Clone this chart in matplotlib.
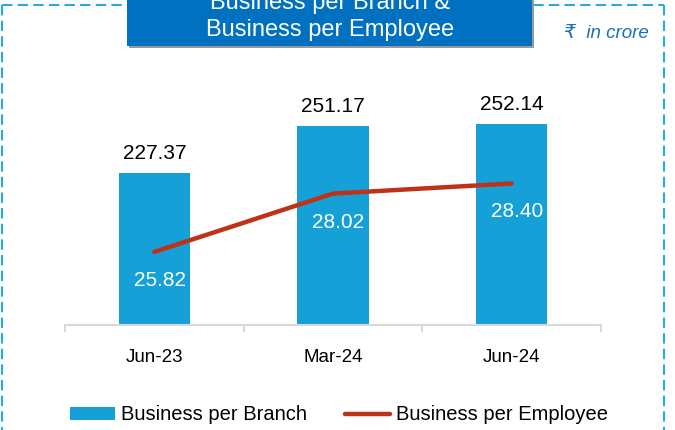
import matplotlib
matplotlib.use("Agg")
import matplotlib.pyplot as plt
from matplotlib.patches import Rectangle, Patch
from matplotlib.lines import Line2D

plt.rcParams['font.family'] = ['Liberation Sans', 'DejaVu Sans']

categories = ["Jun-23", "Mar-24", "Jun-24"]
per_branch = [227.37, 251.17, 252.14]
per_employee = [25.82, 28.02, 28.40]
title_lines = ["Business per Branch &", "Business per Employee"]
unit_note = "₹  in crore"

BAR_C = "#15A1D8"
LINE_C = "#C0311A"
BORDER_C = "#2AA8DF"
TITLE_C = "#0070C0"

W, H = 675, 430
fig = plt.figure(figsize=(W / 100, H / 100), dpi=100)

def fx(px):
    return px / W

def fy(py):
    return 1 - py / H

# axes
ax = fig.add_axes([fx(65), fy(325), fx(601) - fx(65), (325 - 60) / H])
x = list(range(len(categories)))
bars = ax.bar(x, per_branch, width=0.4, color=BAR_C, zorder=2)
ax.set_xlim(-0.5, len(categories) - 0.5)
ax.set_ylim(150.6, 150.6 + 265 / 1.978)
for s in ["top", "right", "left"]:
    ax.spines[s].set_visible(False)
ax.spines["bottom"].set_color("#D9D9D9")
ax.spines["bottom"].set_linewidth(1.5)
ax.set_yticks([])
ax.set_xticks(x)
ax.set_xticklabels(categories, fontsize=13.5)
ax.tick_params(axis="x", which="major", length=0, pad=17)
ax.set_xticks([i - 0.5 for i in range(len(categories) + 1)], minor=True)
ax.tick_params(axis="x", which="minor", length=5, color="#D9D9D9", width=1.5)

for xi, v in zip(x, per_branch):
    ax.annotate(f"{v:.2f}", (xi, v), xytext=(0, 7), textcoords="offset points",
                ha="center", va="bottom", fontsize=15, color="black")

ax2 = ax.twinx()
ax2.set_ylim(23.06, 23.06 + 265 / 26.5)
ax2.axis("off")
ax2.plot(x, per_employee, color=LINE_C, lw=3.2, solid_capstyle="round", zorder=3)
for xi, v in zip(x, per_employee):
    ax2.annotate(f"{v:.2f}", (xi, v), xytext=(4, -20.5), textcoords="offset points",
                 ha="center", va="center", fontsize=15, color="white")

# dashed border
dash = (0, (5, 2.5))
fig.add_artist(Line2D([fx(2), fx(664)], [fy(5), fy(5)], color=BORDER_C, lw=1.5,
                      linestyle=dash, transform=fig.transFigure))
fig.add_artist(Line2D([fx(2), fx(2)], [fy(5), fy(440)], color=BORDER_C, lw=1.5,
                      linestyle=dash, transform=fig.transFigure))
fig.add_artist(Line2D([fx(664), fx(664)], [fy(5), fy(440)], color=BORDER_C, lw=1.5,
                      linestyle=dash, transform=fig.transFigure))

# title box with shadow
fig.add_artist(Rectangle((fx(129), fy(48)), fx(532) - fx(127), fy(-10) - fy(48),
                         transform=fig.transFigure, color="#9A9A9A", zorder=4, lw=0))
fig.add_artist(Rectangle((fx(127), fy(46)), fx(532) - fx(127), fy(-10) - fy(46),
                         transform=fig.transFigure, color=TITLE_C, zorder=5, lw=0))
fig.text(fx(330), fy(9), title_lines[0], color="white", fontsize=17,
         ha="center", va="baseline", zorder=6)
fig.text(fx(330), fy(36), title_lines[1], color="white", fontsize=17,
         ha="center", va="baseline", zorder=6)

fig.text(fx(564), fy(33), unit_note, color="#1F6EB8", fontsize=13.5, style="italic",
         ha="left", va="center", family=['Liberation Sans', 'DejaVu Sans'])

# legend
handles = [Patch(facecolor=BAR_C, edgecolor="none"),
           Line2D([0], [0], color=LINE_C, lw=3.2, solid_capstyle="round")]
fig.legend(handles, ["Business per Branch", "Business per Employee"], ncol=2,
           loc="center", bbox_to_anchor=(fx(339), fy(415)), frameon=False,
           fontsize=14.5, handlelength=2.25, handleheight=0.6, handletextpad=0.3,
           columnspacing=1.85, borderaxespad=0, borderpad=0)

fig.savefig("out.png", dpi=100)
